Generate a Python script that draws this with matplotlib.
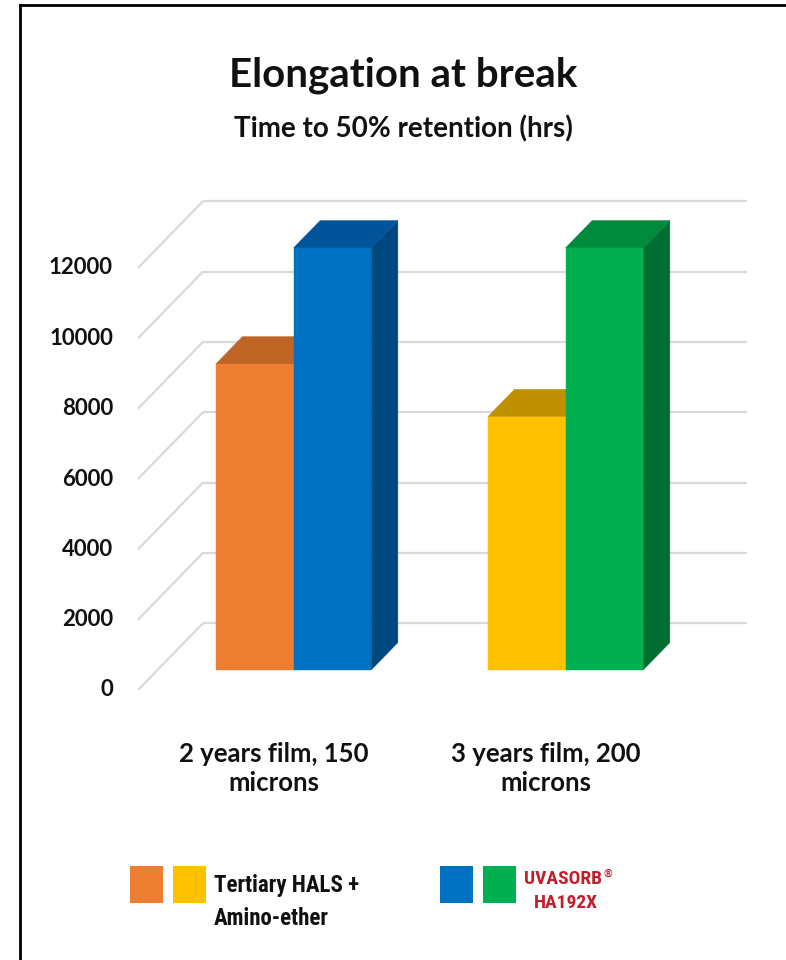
import matplotlib
matplotlib.use('Agg')
import matplotlib.pyplot as plt
from matplotlib.patches import Polygon, Rectangle
from matplotlib.lines import Line2D

W, H = 786, 960

categories = ['2 years film, 150\nmicrons', '3 years film, 200\nmicrons']
series_names = ['Tertiary HALS +\nAmino-ether', 'UVASORB', 'HA192X']
tertiary_hals = [8700, 7200]
uvasorb = [12000, 12000]
y_ticks = [0, 2000, 4000, 6000, 8000, 10000, 12000]

# every point has its own colour: (front, top, side)
tertiary_colors = [('#ED7D31', '#BE6424', '#A9561C'),
                   ('#FFC000', '#BF9000', '#A67D00')]
uvasorb_colors = [('#0070C0', '#005499', '#00467F'),
                  ('#00B050', '#008A3C', '#006E30')]

GRID = '#D9D9D9'
INK = '#111111'
RED = '#C0202E'
BAR_W = 1 / 3.5            # gap width 150 %
DEPTH_X = 0.239            # full depth of the floor, in data units
DEPTH_Y = 1900
Z_FRONT, Z_BACK = 0.30, 0.71

narrow = ['Roboto Condensed', 'Liberation Sans Narrow', 'Roboto']


def project(x, y, z):
    return x + z * DEPTH_X, y + z * DEPTH_Y


def px(x, y):
    """figure fraction from pixel position (y measured from the top)"""
    return x / W, 1 - y / H


def draw_bar(ax, x0, value, colors, zorder):
    front, top, side = colors
    x1 = x0 + BAR_W
    face = [project(x0, 0, Z_FRONT), project(x1, 0, Z_FRONT),
            project(x1, value, Z_FRONT), project(x0, value, Z_FRONT)]
    lid = [project(x0, value, Z_FRONT), project(x1, value, Z_FRONT),
           project(x1, value, Z_BACK), project(x0, value, Z_BACK)]
    wall = [project(x1, 0, Z_FRONT), project(x1, 0, Z_BACK),
            project(x1, value, Z_BACK), project(x1, value, Z_FRONT)]
    for pts, c in ((wall, side), (lid, top), (face, front)):
        ax.add_patch(Polygon(pts, closed=True, facecolor=c, edgecolor=c,
                             linewidth=0.3, zorder=zorder, clip_on=False))


fig = plt.figure(figsize=(W / 100, H / 100), dpi=100)
fig.patch.set_facecolor('white')

ax = fig.add_axes([138 / W, 270 / H, 544 / W, 422 / H])
ax.set_xlim(0, len(categories))
ax.set_ylim(0, 12000)
ax.axis('off')

# back wall and side wall gridlines
for v in y_ticks:
    bx0, by = project(0, v, 1)
    bx1, _ = project(len(categories), v, 1)
    ax.plot([bx0, bx1], [by, by], color=GRID, lw=1.6, zorder=1,
            clip_on=False, solid_capstyle='butt')
    fx, fy = project(0, v, 0)
    ax.plot([fx, bx0], [fy, by], color=GRID, lw=1.6, zorder=1,
            clip_on=False, solid_capstyle='butt')
    ax.text(fx - 0.092, fy, f'{v}', ha='right', va='center',
            fontsize=16, fontweight='bold', family='Lato', color=INK)

# bars
for i in range(len(categories)):
    center = i + 0.5
    draw_bar(ax, center - BAR_W, tertiary_hals[i], tertiary_colors[i], 2 + 2 * i)
    draw_bar(ax, center, uvasorb[i], uvasorb_colors[i], 3 + 2 * i)
    ax.text(center, -1470, categories[i], ha='center', va='top',
            fontsize=18.5, fontweight='bold', family='Lato', color=INK,
            linespacing=1.25)

# titles
fig.text(*px(403, 86), 'Elongation at break', ha='center', va='baseline',
         fontsize=29, fontweight='bold', family='Lato', color=INK)
fig.text(*px(403, 137), 'Time to 50% retention (hrs)', ha='center',
         va='baseline', fontsize=20, fontweight='bold', family='Lato',
         color=INK)

# legend swatches
swatches = [(130, tertiary_colors[0][0]), (173, tertiary_colors[1][0]),
            (440, uvasorb_colors[0][0]), (483, uvasorb_colors[1][0])]
for x, c in swatches:
    fig.add_artist(Rectangle(px(x, 903), 33 / W, 37 / H, transform=fig.transFigure,
                             facecolor=c, edgecolor='none'))

fig.text(*px(214, 892), series_names[0].split('\n')[0], ha='left',
         va='baseline', fontsize=16.5, fontweight='bold', family=narrow, color=INK)
fig.text(*px(214, 925), series_names[0].split('\n')[1], ha='left',
         va='baseline', fontsize=16.5, fontweight='bold', family=narrow, color=INK)
uv = fig.text(*px(524, 884), series_names[1], ha='left', va='baseline',
              fontsize=14, fontweight='bold', family=narrow, color=RED)
fig.text(*px(534, 908), series_names[2], ha='left', va='baseline',
         fontsize=14, fontweight='bold', family=narrow, color=RED)
ax.annotate('\u00ae', xy=(1, 1), xycoords=uv, xytext=(1, 1),
            textcoords='offset points', ha='left', va='top', fontsize=8,
            fontweight='bold', family=narrow, color=RED)

# frame lines along the top and left edge
fig.add_artist(Line2D([20 / W, 20 / W], [0, 1 - 5 / H], color='black', lw=2))
fig.add_artist(Line2D([20 / W, 1], [1 - 5 / H, 1 - 5 / H], color='black', lw=2))

fig.savefig('out.png', dpi=100, facecolor='white')
